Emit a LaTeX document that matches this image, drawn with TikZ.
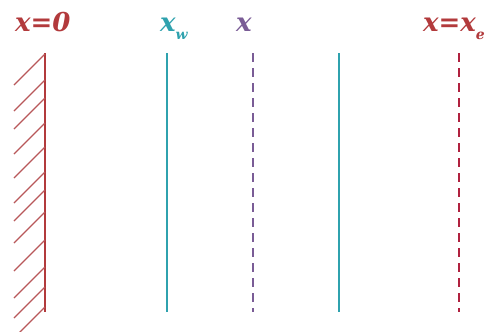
\documentclass[tikz,border=0pt]{standalone}
\usepackage{fontspec}
\setmainfont{DejaVu Serif}
\definecolor{wallred}{HTML}{B23A3C}
\definecolor{hatchc}{HTML}{B8585A}
\definecolor{tealc}{HTML}{2FA2AE}
\definecolor{purp}{HTML}{7A5C96}
\definecolor{dred}{HTML}{B0213F}
\tikzset{
  lbl/.style={inner sep=0pt, anchor=base west, font=\fontsize{26}{26}\selectfont\bfseries\itshape},
  wall/.style={draw=wallred, line width=2pt},
  hatch/.style={draw=hatchc, line width=1.3pt},
  solidline/.style={draw=tealc, line width=2pt},
  dashline/.style={line width=2pt, dash pattern=on 9pt off 6pt},
}
\newcommand{\subw}[1]{{\fontsize{14}{14}\selectfont\raisebox{-8pt}{#1}}}
\begin{document}
\begin{tikzpicture}[x=1pt,y=-1pt]
\useasboundingbox (0,0) rectangle (488,332);
% labels
\node[lbl, text=wallred] (l0) at (15,31) {x=0};
\node[lbl, text=tealc] (lw) at (160,31) {x\subw{w}};
\node[lbl, text=purp] (lx) at (236,31) {x};
\node[lbl, text=wallred] (le) at (423,31) {x=x\subw{e}};
% wall
\coordinate (wt) at (45,53);
\coordinate (wb) at (45,312);
\draw[wall] (wt) -- (wb);
\foreach \y in {54,80,98,123,147,172,190,212,240,267,287,307}{
  \draw[hatch] (45,\y) -- ++(-31,31);
}
% vertical lines
\coordinate (t1) at (166.5,53); \coordinate (b1) at (166.5,312);
\coordinate (t2) at (252.5,53); \coordinate (b2) at (252.5,312);
\coordinate (t3) at (339,53);   \coordinate (b3) at (339,312);
\coordinate (t4) at (459,53);   \coordinate (b4) at (459,312);
\draw[solidline] (t1) -- (b1);
\draw[dashline, draw=purp] (t2) -- (b2);
\draw[solidline] (t3) -- (b3);
\draw[dashline, draw=dred] (t4) -- (b4);
\end{tikzpicture}
\end{document}
